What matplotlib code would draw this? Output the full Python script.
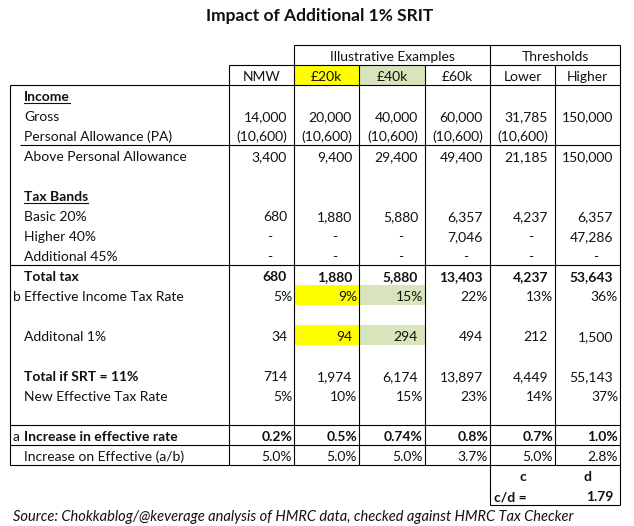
import matplotlib
matplotlib.use("Agg")
import matplotlib.pyplot as plt
from matplotlib.patches import Rectangle

plt.rcParams['font.family'] = ['Lato', 'DejaVu Sans']

# ---- data ----
columns = ["NMW", "£20k", "£40k", "£60k", "Lower", "Higher"]
gross = [14000, 20000, 40000, 60000, 31785, 150000]
personal_allowance = [-10600, -10600, -10600, -10600, -10600, None]
above_pa = [3400, 9400, 29400, 49400, 21185, 150000]
basic_20 = [680, 1880, 5880, 6357, 4237, 6357]
higher_40 = [0, 0, 0, 7046, 0, 47286]
additional_45 = [0, 0, 0, 0, 0, 0]
total_tax = [680, 1880, 5880, 13403, 4237, 53643]
effective_rate = ["5%", "9%", "15%", "22%", "13%", "36%"]
additional_1 = [34, 94, 294, 494, 212, 1500]
total_srt11 = [714, 1974, 6174, 13897, 4449, 55143]
new_effective = ["5%", "10%", "15%", "23%", "14%", "37%"]
increase_effective = ["0.2%", "0.5%", "0.74%", "0.8%", "0.7%", "1.0%"]
increase_on_effective = ["5.0%", "5.0%", "5.0%", "3.7%", "5.0%", "2.8%"]
c_over_d = 1.79

# (prefix, label, values, bold label, bold values, underline)
rows = [
    ("", "Income", None, True, False, True),
    ("", "Gross", gross, False, False, False),
    ("", "Personal Allowance (PA)", personal_allowance, False, False, False),
    ("", "Above Personal Allowance", above_pa, False, False, False),
    ("", "", None, False, False, False),
    ("", "Tax Bands", None, True, False, True),
    ("", "Basic 20%", basic_20, False, False, False),
    ("", "Higher 40%", higher_40, False, False, False),
    ("", "Additional 45%", additional_45, False, False, False),
    ("", "Total tax", total_tax, True, True, False),
    ("b", "Effective Income Tax Rate", effective_rate, False, False, False),
    ("", "", None, False, False, False),
    ("", "Additonal 1%", additional_1, False, False, False),
    ("", "", None, False, False, False),
    ("", "Total if SRT = 11%", total_srt11, True, False, False),
    ("", "New Effective Tax Rate", new_effective, False, False, False),
    ("", "", None, False, False, False),
    ("a", "Increase in effective rate", increase_effective, True, True, False),
    ("", "Increase on Effective (a/b)", increase_on_effective, False, False, False),
]

# ---- layout (pixels) ----
W, H = 634, 526
left = 10
col_edges = [229, 294, 359, 425, 490, 555, 620]
body_top = 85
row_h = 20
fs = 10.0
ink = "#111111"
yellow = "#FFFF00"
green = "#D8E4BC"
lw = 0.8


def fmt(v):
    if isinstance(v, str):
        return v
    if v is None:
        return ""
    if v == 0:
        return "-"
    if v < 0:
        return "({:,})".format(-v)
    return "{:,}".format(v)


fig = plt.figure(figsize=(W / 100, H / 100), dpi=100)
ax = fig.add_axes([0, 0, 1, 1])
ax.set_xlim(0, W)
ax.set_ylim(H, 0)
ax.axis('off')


def hline(y, x0, x1):
    ax.plot([x0, x1], [y, y], color="black", lw=lw, solid_capstyle='butt')


def vline(x, y0, y1):
    ax.plot([x, x], [y0, y1], color="black", lw=lw, solid_capstyle='butt')


def fill(ci, ri_top):
    color = yellow if ci == 1 else green
    ax.add_patch(Rectangle((col_edges[ci], ri_top), col_edges[ci + 1] - col_edges[ci], row_h,
                           facecolor=color, edgecolor='none', zorder=0))


# title
ax.text(320, 16, "Impact of Additional 1% SRIT", ha='center', va='center',
        fontsize=12.5, fontweight='bold', color=ink)

# header highlights
fill(1, 65)
fill(2, 65)

# group headers
ax.text((col_edges[1] + col_edges[4]) / 2, 61, "Illustrative Examples", ha='center',
        va='baseline', fontsize=fs, color=ink)
ax.text((col_edges[4] + col_edges[6]) / 2, 61, "Thresholds", ha='center',
        va='baseline', fontsize=fs, color=ink)
for i, name in enumerate(columns):
    ax.text((col_edges[i] + col_edges[i + 1]) / 2, 81, name, ha='center',
            va='baseline', fontsize=fs, color=ink)

# body
underlines = []
for r, (prefix, label, vals, bold, bold_vals, under) in enumerate(rows):
    top = body_top + r * row_h
    base = top + row_h - 4
    weight = 'bold' if bold else 'normal'
    vweight = 'bold' if bold_vals else 'normal'
    if label in ("Effective Income Tax Rate", "Additonal 1%"):
        fill(1, top)
        fill(2, top)
    if prefix:
        ax.text(13, base, prefix, ha='left', va='baseline', fontsize=fs, color=ink)
    if label:
        t = ax.text(24, base, label, ha='left', va='baseline', fontsize=fs,
                    fontweight=weight, color=ink)
        if under:
            underlines.append((t, base))
    if vals is None:
        continue
    for i, v in enumerate(vals):
        s = fmt(v)
        right = col_edges[i + 1]
        if s == "-":
            ax.text(right - 24, base, s, ha='center', va='baseline', fontsize=fs, color=ink)
        elif s.endswith("%"):
            ax.text(right - 2, base, s, ha='right', va='baseline', fontsize=fs,
                    fontweight=vweight, color=ink)
        else:
            ax.text(right - 7, base, s, ha='right', va='baseline', fontsize=fs,
                    fontweight=vweight, color=ink)

body_bottom = body_top + len(rows) * row_h

# c / d box
ax.text((col_edges[4] + col_edges[5]) / 2, body_bottom + 16, "c", ha='center',
        va='baseline', fontsize=fs, fontweight='bold', color=ink)
ax.text((col_edges[5] + col_edges[6]) / 2, body_bottom + 16, "d", ha='center',
        va='baseline', fontsize=fs, fontweight='bold', color=ink)
ax.text(col_edges[4] + 4, body_bottom + 36, "c/d =", ha='left',
        va='baseline', fontsize=fs, fontweight='bold', color=ink)
ax.text(col_edges[6] - 7, body_bottom + 36, "{:.2f}".format(c_over_d), ha='right',
        va='baseline', fontsize=fs, fontweight='bold', color=ink)

# source
ax.text(13, 517, "Source: Chokkablog/@keverage analysis of HMRC data, checked against HMRC Tax Checker",
        ha='left', va='center', fontsize=10.5, fontstyle='italic', color=ink)

# grid lines
hline(45, col_edges[1], col_edges[6])
hline(65, col_edges[0], col_edges[6])
hline(body_top, left, col_edges[6])
hline(body_top + 3 * row_h, 20, col_edges[6])
hline(body_top + 9 * row_h, left, col_edges[6])
hline(body_top + 17 * row_h, left, col_edges[6])
hline(body_top + 18 * row_h, left, col_edges[6])
hline(body_bottom, left, col_edges[6])
hline(body_bottom + 2 * row_h, col_edges[4], col_edges[6])

vline(left, body_top, body_bottom)
vline(col_edges[0], 65, body_bottom)
vline(col_edges[1], 45, body_bottom)
vline(col_edges[2], 65, body_bottom)
vline(col_edges[3], 65, body_bottom)
vline(col_edges[4], 45, body_bottom + 2 * row_h)
vline(col_edges[5], 65, body_bottom)
vline(col_edges[6], 45, body_bottom + 2 * row_h)

# underline bold section headers
fig.canvas.draw()
inv = ax.transData.inverted()
for t, base in underlines:
    bb = t.get_window_extent()
    x0, _ = inv.transform((bb.x0, bb.y0))
    x1, _ = inv.transform((bb.x1, bb.y0))
    ax.plot([x0, x1], [base + 2, base + 2], color=ink, lw=0.8)

fig.savefig("out.png", dpi=100)
